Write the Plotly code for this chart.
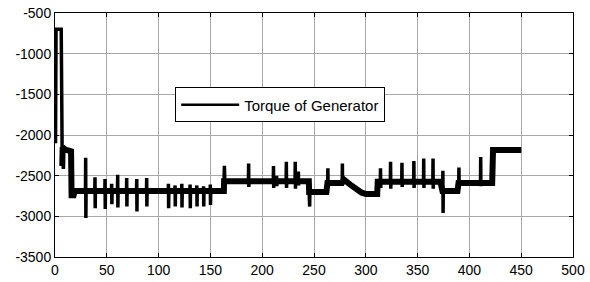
import plotly.graph_objects as go

# ---- data ----
base_t = [0.5, 1.0, 6.0, 6.3, 7.0, 7.4, 10, 15.5, 16.0, 18, 19, 163, 163.2,
          245, 245.3, 262, 263, 277, 279, 285, 290, 296, 300, 311, 311.5,
          372, 374, 388.5, 389.5, 422, 422.8, 450]
base_v = [-2100, -700, -700, -2380, -2380, -2150, -2180, -2200, -2740, -2740, -2690, -2690, -2570,
          -2570, -2700, -2700, -2590, -2590, -2550, -2610, -2660, -2710, -2725, -2725, -2575,
          -2575, -2690, -2690, -2590, -2590, -2185, -2185]

spike_t = [29.7, 38.7, 48.4, 54.8, 60.6, 69.3, 79.0, 88.6, 109.6, 116.0, 122.5, 130.5, 137.0,
           143.5, 150.0, 163.6, 187, 211, 214, 223.4, 232, 235, 245.7, 263.5, 277.5,
           314.3, 324, 335, 346.5, 356, 365, 374.5, 390, 411]
spike_hi = [-2280, -2520, -2540, -2600, -2490, -2530, -2540, -2530, -2600, -2620, -2600, -2610, -2620,
            -2630, -2610, -2380, -2350, -2380, -2500, -2330, -2330, -2450, -2600, -2410, -2350,
            -2410, -2330, -2340, -2320, -2290, -2290, -2440, -2400, -2270]
spike_lo = [-3020, -2900, -2910, -2850, -2890, -2880, -2940, -2880, -2900, -2880, -2890, -2900, -2880,
            -2880, -2860, -2620, -2640, -2650, -2630, -2650, -2660, -2620, -2880, -2650, -2600,
            -2650, -2660, -2640, -2650, -2650, -2660, -2960, -2620, -2630]

x_ticks = [0, 50, 100, 150, 200, 250, 300, 350, 400, 450, 500]
y_ticks = [-3500, -3000, -2500, -2000, -1500, -1000, -500]
y_tick_labels = ["-3500", "-3000", "-2500", "-2000", "-1500", "-1000", "-500"]
series_name = "Torque of Generator"

# ---- build the full series from the arrays ----
def base_at(t):
    v = base_v[0]
    for bt, bv in zip(base_t, base_v):
        if bt <= t:
            v = bv
    return v

pts = list(zip(base_t, base_v))
for t, hi, lo in zip(spike_t, spike_hi, spike_lo):
    b = base_at(t)
    pts += [(t - 0.3, b), (t - 0.1, hi), (t + 0.1, lo), (t + 0.3, b)]
pts.sort(key=lambda p: p[0])
xs = [p[0] for p in pts]
ys = [p[1] for p in pts]

band_x = [t for t in base_t if t >= 6.3]
band_y = [v for t, v in zip(base_t, base_v) if t >= 6.3]

font = "Liberation Sans, Arial, sans-serif"

fig = go.Figure()
fig.add_trace(go.Scatter(x=band_x, y=band_y, mode="lines", showlegend=False,
                         line=dict(color="black", width=6), hoverinfo="skip"))
fig.add_trace(go.Scatter(x=xs, y=ys, mode="lines", showlegend=False,
                         line=dict(color="black", width=3.5)))
fig.add_trace(go.Scatter(x=[None], y=[None], mode="lines", name=series_name,
                         line=dict(color="black", width=2.5)))

axis_common = dict(showline=True, linecolor="black", linewidth=1, mirror="ticks",
                   ticks="inside", ticklen=4, tickcolor="black", showgrid=True,
                   gridcolor="#a8a8a8", gridwidth=1, zeroline=False, automargin=False,
                   tickfont=dict(family=font, size=14, color="black"))

fig.update_layout(
    width=590, height=282,
    margin=dict(l=55, r=17, t=13, b=25, autoexpand=False),
    paper_bgcolor="white", plot_bgcolor="white",
    xaxis=dict(range=[0, 500], tickvals=x_ticks, **axis_common),
    yaxis=dict(range=[-3500, -500], tickvals=y_ticks, ticktext=y_tick_labels, **axis_common),
    legend=dict(x=0.232, y=0.695, xanchor="left", yanchor="top", itemwidth=58,
                bgcolor="white", bordercolor="black", borderwidth=1,
                font=dict(family=font, size=15, color="black")),
)

fig.write_html("out.html", config={"displayModeBar": False},
               post_script="document.body.style.margin='0';document.body.style.overflow='hidden';")
